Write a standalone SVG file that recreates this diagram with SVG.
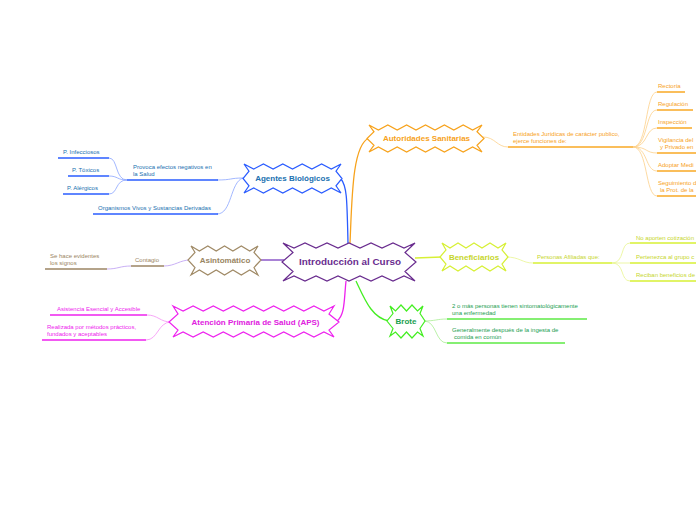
<svg xmlns="http://www.w3.org/2000/svg" width="696" height="520" viewBox="0 0 696 520">
<style>
text{font-family:"Liberation Sans",Arial,sans-serif;}
.nt{font-size:8px;font-weight:bold;text-anchor:middle;}
.ct{font-size:9.9px;font-weight:bold;text-anchor:middle;fill:#6a2d8f;}
.st{font-size:6px;}
.node{fill:#fff;stroke-width:1.2;stroke-linejoin:miter;}
.ul{fill:none;stroke-width:1.5;}
.th{fill:none;stroke-width:0.8;}
.br{fill:none;stroke-width:1.3;}
</style>
<rect width="696" height="520" fill="#fff"/>
<g id="connectors">
  <path class="br" d="M341,179 C347,186 347,200 348,243" stroke="#2a5cff"/>
  <path class="br" d="M350,243 C352,200 352,145 369,138" stroke="#f7a21b"/>
  <path class="br" d="M415,258 L442,257" stroke="#d7f035"/>
  <path class="br" d="M356,281 C365,300 372,318 389,321" stroke="#44ee22"/>
  <path class="br" d="M346,281 C344,300 345,315 337,321" stroke="#ee22ee"/>
  <path class="br" d="M259,260 L284,260" stroke="#7b3fc0"/>
  <g stroke="#8aa4ff">
    <path class="th" d="M243,178 C230,178 232,180 217,180"/>
    <path class="th" d="M243,178 C230,182 232,214 217,214"/>
    <path class="th" d="M127,180 C115,180 118,158 109,158"/>
    <path class="th" d="M127,180 C117,180 118,176 109,176"/>
    <path class="th" d="M127,180 C115,180 118,194 109,194"/>
  </g>
  <g stroke="#fcd08a">
    <path class="th" d="M483,137 C495,137 497,147 508,147"/>
    <path class="th" d="M633,147 C648,147 645,92 657,92"/>
    <path class="th" d="M633,147 C648,147 645,110 657,110"/>
    <path class="th" d="M633,147 C648,147 645,128 657,128"/>
    <path class="th" d="M633,147 C648,147 645,153 657,153"/>
    <path class="th" d="M633,147 C648,147 645,171 657,171"/>
    <path class="th" d="M633,147 C648,147 645,196 657,196"/>
  </g>
  <g stroke="#e8f590">
    <path class="th" d="M506,257 C520,257 522,263 533,263"/>
    <path class="th" d="M612,263 C625,263 620,243 630,243"/>
    <path class="th" d="M612,263 L630,263"/>
    <path class="th" d="M612,263 C625,263 620,281 630,281"/>
  </g>
  <g stroke="#bb9cf2">
    <path class="th" d="M190,260 C180,260 175,266 164,266"/>
    <path class="th" d="M131,266 C120,266 118,269 107,269"/>
  </g>
  <g stroke="#f590f5">
    <path class="th" d="M171,322 C160,322 158,315 147,315"/>
    <path class="th" d="M171,322 C158,322 158,340 146,340"/>
  </g>
  <g stroke="#a8ee92">
    <path class="th" d="M424,321 C435,321 437,319 447,319"/>
    <path class="th" d="M424,321 C437,321 435,343 447,343"/>
  </g>
</g>
<g id="center">
  <polygon class="node" stroke="#6a2d8f" stroke-width="2" points="283,243 294,248 305,243 316,248 327,243 338,248 349,243 360,248 371,243 382,248 393,243 404,248 415,243 405,252.5 416,262 405,271.5 415,281 404,276 393,281 382,276 371,281 360,276 349,281 338,276 327,281 316,276 305,281 294,276 283,281 293,271.5 282,262 293,252.5"/>
  <text class="ct" x="350" y="264.5">Introducción al Curso</text>
</g>
<g id="agentes">
  <polygon class="node" stroke="#2a5cff" points="244,164 253.7,169 263.4,164 273.1,169 282.8,164 292.5,169 302.2,164 311.9,169 321.6,164 331.3,169 341,164 336,171.2 342,178.5 336,185.8 341,193 331.3,188 321.6,193 311.9,188 302.2,193 292.5,188 282.8,193 273.1,188 263.4,193 253.7,188 244,193 249,185.8 243,178.5 249,171.2"/>
  <text class="nt" x="292.5" y="181.3" fill="#2070b0">Agentes Biológicos</text>
  <g fill="#2070b0" class="st">
    <text class="st" x="133" y="169">Provoca efectos negativos en</text>
    <text class="st" x="133" y="176">la Salud</text>
    <text class="st" x="63" y="154">P. Infecciosos</text>
    <text class="st" x="72" y="172">P. Tóxicos</text>
    <text class="st" x="67" y="190">P. Alérgicos</text>
    <text class="st" x="98" y="210">Organismos Vivos y Sustancias Derivadas</text>
  </g>
  <g stroke="#2a5cff">
    <path class="ul" d="M127,180 H218"/>
    <path class="ul" d="M58,158 H109"/>
    <path class="ul" d="M68,176 H109"/>
    <path class="ul" d="M63,194 H109"/>
    <path class="ul" d="M93,214 H218"/>
  </g>
</g>
<g id="autoridades">
  <polygon class="node" stroke="#f7a21b" points="369,125 378.4,130 387.8,125 397.2,130 406.6,125 416,130 425.5,125 435,130 444.4,125 453.8,130 463.2,125 472.6,130 482,125 477,131.8 484,138.5 477,145.2 482,152 472.6,147 463.2,152 453.8,147 444.4,152 435,147 425.5,152 416,147 406.6,152 397.2,147 387.8,152 378.4,147 369,152 374,145.2 367,138.5 374,131.8"/>
  <text class="nt" x="426.5" y="141.3" fill="#f7a21b">Autoridades Sanitarias</text>
  <g fill="#f7a21b">
    <text class="st" x="513" y="136">Entidades Jurídicas de carácter publico,</text>
    <text class="st" x="513" y="143">ejerce funciones de:</text>
    <text class="st" x="658" y="88">Rectoría</text>
    <text class="st" x="658" y="106">Regulación</text>
    <text class="st" x="658" y="124">Inspección</text>
    <text class="st" x="658" y="142">Vigilancia del</text>
    <text class="st" x="660" y="149">y Privado en</text>
    <text class="st" x="658" y="167">Adoptar Medi</text>
    <text class="st" x="658" y="185">Seguimiento d</text>
    <text class="st" x="660" y="192">la Prot. de la</text>
  </g>
  <g stroke="#f9a825">
    <path class="ul" d="M508,147 H633"/>
    <path class="ul" d="M657,92 H685"/>
    <path class="ul" d="M657,110 H693"/>
    <path class="ul" d="M657,128 H692"/>
    <path class="ul" d="M657,153 H696"/>
    <path class="ul" d="M657,171 H696"/>
    <path class="ul" d="M657,196 H696"/>
  </g>
</g>
<g id="beneficiarios">
  <polygon class="node" stroke="#d7f035" points="442,243 450,248 458,243 466,248 474,243 482,248 490,243 498,248 506,243 502,250 508,257 502,264 506,271 498,266 490,271 482,266 474,271 466,266 458,271 450,266 442,271 446,264 440,257 446,250"/>
  <text class="nt" x="474" y="260" fill="#c6d62c">Beneficiarios</text>
  <g fill="#c6d62c">
    <text class="st" x="537" y="259">Personas Afiliadas que:</text>
    <text class="st" x="636" y="240">No aporten cotización</text>
    <text class="st" x="636" y="259">Pertenezca al grupo c</text>
    <text class="st" x="636" y="277">Reciban beneficios de</text>
  </g>
  <g stroke="#d7f035">
    <path class="ul" d="M533,263 H612"/>
    <path class="ul" d="M630,243 H696"/>
    <path class="ul" d="M630,263 H696"/>
    <path class="ul" d="M630,281 H696"/>
  </g>
</g>
<g id="asintomatico">
  <polygon class="node" stroke="#a08a66" points="191,246 199.4,251 207.8,246 216.2,251 224.5,246 232.9,251 241.3,246 249.7,251 258,246 254,252.5 261,260 254,267.5 258,275 249.7,270 241.3,275 232.9,270 224.5,275 216.2,270 207.8,275 199.4,270 191,275 195,267.5 188,260 195,252.5"/>
  <text class="nt" x="225" y="262.5" fill="#9a8562">Asintomático</text>
  <g fill="#9a8562">
    <text class="st" x="135" y="262">Contagio</text>
    <text class="st" x="50" y="258">Se hace evidentes</text>
    <text class="st" x="50" y="265">los signos</text>
  </g>
  <g stroke="#9b8563">
    <path class="ul" d="M131,266 H164"/>
    <path class="ul" d="M45,269 H107"/>
  </g>
</g>
<g id="aps">
  <polygon class="node" stroke="#ee22ee" points="173,306 183.1,311 193.1,306 203.2,311 213.3,306 223.3,311 233.4,306 243.4,311 253.5,306 263.6,311 273.6,306 283.7,311 293.8,306 303.8,311 313.9,306 323.9,311 334,306 329,314 339,322 329,330 334,337 323.9,332 313.9,337 303.8,332 293.8,337 283.7,332 273.6,337 263.6,332 253.5,337 243.4,332 233.4,337 223.3,332 213.3,337 203.2,332 193.1,337 183.1,332 173,337 178,330 169,322 178,314"/>
  <text class="nt" x="255.5" y="325" fill="#e020e0">Atención Primaria de Salud (APS)</text>
  <g fill="#ee22ee">
    <text class="st" x="57" y="311">Asistencia Esencial y Accesible</text>
    <text class="st" x="47" y="329">Realizada por métodos prácticos,</text>
    <text class="st" x="47" y="336">fundados y aceptables</text>
  </g>
  <g stroke="#ee22ee">
    <path class="ul" d="M50,315 H147"/>
    <path class="ul" d="M42,340 H146"/>
  </g>
</g>
<g id="brote">
  <polygon class="node" stroke="#44ee22" points="390,306 395.5,311 401,305 406.5,311 412,305 417.5,311 423,306 420,313.5 425,321 420,328.5 423,336 417.5,332 412,338 406.5,332 401,338 395.5,332 390,336 393,328.5 387,321 393,313.5"/>
  <text class="nt" x="406" y="324" fill="#1aa050">Brote</text>
  <g fill="#1aa050">
    <text class="st" x="452" y="308">2 o más personas tienen sintomatológicamente</text>
    <text class="st" x="452" y="315">una enfermedad</text>
    <text class="st" x="452" y="332">Generalmente después de la ingesta de</text>
    <text class="st" x="454" y="339">comida en común</text>
  </g>
  <g stroke="#5dea45">
    <path class="ul" d="M447,319 H587"/>
    <path class="ul" d="M447,343 H565"/>
  </g>
</g>
</svg>
